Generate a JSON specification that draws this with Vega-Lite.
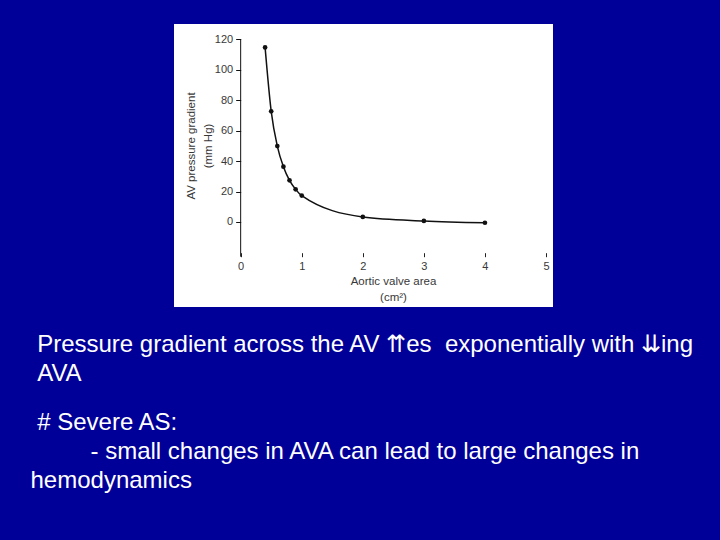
{
  "$schema": "https://vega.github.io/schema/vega-lite/v6.json",
  "width": 379,
  "height": 283,
  "autosize": {"type": "none"},
  "padding": {"left": 174, "top": 24, "right": 167, "bottom": 233},
  "background": "#000099",
  "config": {
    "font": "Liberation Sans",
    "view": {"stroke": null, "fill": "#ffffff"},
    "axis": {
      "grid": false,
      "domain": false,
      "labelFont": "Liberation Sans",
      "labelFontSize": 11,
      "labelColor": "#383838",
      "titleFont": "Liberation Sans",
      "titleFontSize": 11.5,
      "titleFontWeight": "normal",
      "titleColor": "#383838",
      "zindex": 1
    },
    "axisX": {
      "format": "d",
      "offset": -54.3,
      "tickSize": 4,
      "tickColor": "#222222",
      "labelPadding": 4,
      "titlePadding": 4,
      "titleLineHeight": 15.5,
      "titleX": 219
    },
    "axisY": {
      "offset": -66.67,
      "tickSize": 5,
      "tickColor": "#111111",
      "labelPadding": 3,
      "titlePadding": 1,
      "titleLineHeight": 16.5,
      "titleY": 121.5
    }
  },
  "data": {
    "values": [
      {"area": 0.4, "gradient": 114.5},
      {"area": 0.5, "gradient": 72.6},
      {"area": 0.6, "gradient": 49.8},
      {"area": 0.7, "gradient": 36.3},
      {"area": 0.8, "gradient": 27.3},
      {"area": 0.9, "gradient": 21.4},
      {"area": 1.0, "gradient": 17.3},
      {"area": 2.0, "gradient": 3.3},
      {"area": 3.0, "gradient": 0.7},
      {"area": 4.0, "gradient": -0.5}
    ]
  },
  "title": {
    "text": ["\u200b\u00a0Pressure gradient across the AV \u21c8es \u00a0exponentially with \u21caing", "\u200b\u00a0AVA"],
    "subtitle": ["\u200b\u00a0# Severe AS:", "\u200b\u00a0\u00a0\u00a0\u00a0\u00a0\u00a0\u00a0\u00a0\u00a0- small changes in AVA can lead to large changes in", "hemodynamics"],
    "orient": "bottom",
    "anchor": "start",
    "frame": "group",
    "dx": -143.5,
    "offset": 25.6,
    "font": "Liberation Sans",
    "fontSize": 24,
    "fontWeight": "normal",
    "color": "#ffffff",
    "lineHeight": 29,
    "subtitleFont": "Liberation Sans",
    "subtitleFontSize": 24,
    "subtitleFontWeight": "normal",
    "subtitleColor": "#ffffff",
    "subtitleLineHeight": 29,
    "subtitlePadding": 25
  },
  "layer": [
    {
      "data": {"values": [{"axis": "y"}]},
      "mark": {"type": "rule", "color": "#111111", "strokeWidth": 1},
      "encoding": {
        "x": {
          "datum": 0, "type": "quantitative",
          "scale": {"domain": [-1.0917, 5.1146], "nice": false, "zero": false},
          "axis": {"title": ["Aortic valve area", "(cm\u00b2)"], "values": [0, 1, 2, 3, 4, 5]}
        },
        "y": {
          "datum": -22.75, "type": "quantitative",
          "scale": {"domain": [-55.74, 129.84], "nice": false, "zero": false},
          "axis": {"title": ["AV pressure gradient", "(mm Hg)"], "values": [0, 20, 40, 60, 80, 100, 120]}
        },
        "y2": {"datum": 120}
      }
    },
    {
      "mark": {"type": "line", "interpolate": "monotone", "color": "#111111", "strokeWidth": 1.5},
      "encoding": {
        "x": {
          "field": "area", "type": "quantitative",
          "scale": {"domain": [-1.0917, 5.1146], "nice": false, "zero": false},
          "axis": {"title": ["Aortic valve area", "(cm\u00b2)"], "values": [0, 1, 2, 3, 4, 5]}
        },
        "y": {
          "field": "gradient", "type": "quantitative",
          "scale": {"domain": [-55.74, 129.84], "nice": false, "zero": false},
          "axis": {"title": ["AV pressure gradient", "(mm Hg)"], "values": [0, 20, 40, 60, 80, 100, 120]}
        }
      }
    },
    {
      "mark": {"type": "point", "filled": true, "size": 22, "color": "#111111", "opacity": 1},
      "encoding": {
        "x": {
          "field": "area", "type": "quantitative",
          "scale": {"domain": [-1.0917, 5.1146], "nice": false, "zero": false},
          "axis": {"title": ["Aortic valve area", "(cm\u00b2)"], "values": [0, 1, 2, 3, 4, 5]}
        },
        "y": {
          "field": "gradient", "type": "quantitative",
          "scale": {"domain": [-55.74, 129.84], "nice": false, "zero": false},
          "axis": {"title": ["AV pressure gradient", "(mm Hg)"], "values": [0, 20, 40, 60, 80, 100, 120]}
        }
      }
    }
  ]
}
